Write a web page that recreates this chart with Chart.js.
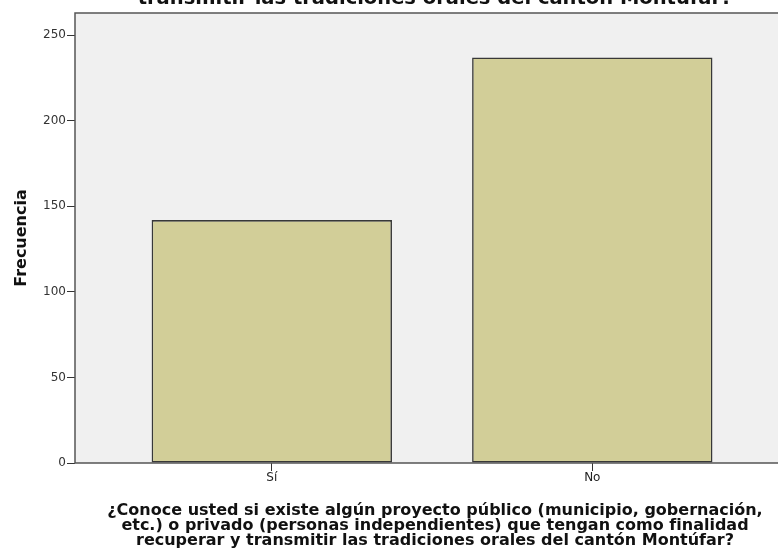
<!DOCTYPE html>
<html lang="es">
<head>
    <meta charset="UTF-8">
    <title>Frecuencia - proyecto tradiciones orales</title>
    <style>
        html, body {
            margin: 0;
            padding: 0;
            background-color: white;
            overflow: hidden;
        }
        #wrap {
            width: 795px;
            height: 552px;
        }
    </style>
    <script src="https://cdn.jsdelivr.net/npm/chart.js"></script>
</head>
<body>
    <div id="wrap">
        <canvas id="freqChart" width="795" height="552"></canvas>
    </div>

    <script>
        // data
        const categories = ['Sí', 'No'];
        const frequencies = [142, 237];
        const yTicks = [0, 50, 100, 150, 200, 250];
        const topTitle = 'transmitir las tradiciones orales del cantón Montúfar?';
        const xTitle = [
            '¿Conoce usted si existe algún proyecto público (municipio, gobernación,',
            'etc.) o privado (personas independientes) que tengan como finalidad',
            'recuperar y transmitir las tradiciones orales del cantón Montúfar?'
        ];

        const xPositions = categories.map((c, i) => i + 1);
        const points = xPositions.map((x, i) => ({ x: x, y: frequencies[i] }));

        // grey plot background + frame, and the (cut off) chart title on top
        const plotFrame = {
            id: 'plotFrame',
            beforeDatasetsDraw(chart) {
                const { ctx, chartArea: a } = chart;
                ctx.save();
                ctx.fillStyle = '#F0F0F0';
                ctx.fillRect(a.left, a.top, a.right - a.left, a.bottom - a.top);
                ctx.strokeStyle = '#555';
                ctx.lineWidth = 1.5;
                ctx.strokeRect(a.left, a.top, a.right - a.left + 5, a.bottom - a.top);
                ctx.restore();
            },
            afterDraw(chart) {
                const { ctx, chartArea: a } = chart;
                ctx.save();
                ctx.fillStyle = '#111';
                ctx.font = 'bold 19.5px "DejaVu Sans", sans-serif';
                ctx.textAlign = 'center';
                ctx.textBaseline = 'alphabetic';
                ctx.fillText(topTitle, (a.left + a.right) / 2, 4);
                ctx.restore();
            }
        };

        Chart.defaults.font.family = '"DejaVu Sans", sans-serif';

        new Chart(document.getElementById('freqChart'), {
            type: 'bar',
            data: {
                datasets: [{
                    label: 'Frecuencia',
                    data: points,
                    backgroundColor: '#D2CE98',
                    borderColor: '#383838',
                    borderWidth: 1.6,
                    borderSkipped: false,
                    barPercentage: 0.75,
                    categoryPercentage: 1
                }]
            },
            options: {
                responsive: false,
                animation: false,
                layout: { padding: { top: 13, left: 0, right: 0, bottom: 0 } },
                plugins: {
                    legend: { display: false },
                    tooltip: { enabled: false }
                },
                scales: {
                    x: {
                        type: 'linear',
                        min: 0.386,
                        max: 2.6325,
                        offset: false,
                        grid: {
                            offset: false,
                            drawOnChartArea: false,
                            drawTicks: true,
                            tickLength: 8,
                            color: '#333'
                        },
                        border: { display: false },
                        afterBuildTicks: scale => {
                            scale.ticks = xPositions.map(v => ({ value: v }));
                        },
                        afterFit: scale => { scale.height = 89; },
                        ticks: {
                            padding: 0,
                            color: '#222',
                            font: { size: 12 },
                            callback: v => categories[xPositions.indexOf(v)] || ''
                        },
                        title: {
                            display: true,
                            text: xTitle,
                            color: '#111',
                            font: { size: 16, weight: 'bold', lineHeight: 0.9375 },
                            padding: { top: 0, bottom: 4 }
                        }
                    },
                    y: {
                        type: 'linear',
                        min: 0,
                        max: 263,
                        grid: {
                            drawOnChartArea: false,
                            drawTicks: true,
                            tickLength: 8,
                            color: '#333'
                        },
                        border: { display: false },
                        afterBuildTicks: scale => {
                            scale.ticks = yTicks.map(v => ({ value: v }));
                        },
                        afterFit: scale => { scale.width = 75; },
                        ticks: {
                            padding: 1,
                            color: '#333',
                            font: { size: 12 }
                        },
                        title: {
                            display: true,
                            text: 'Frecuencia',
                            color: '#111',
                            font: { size: 16, weight: 'bold', lineHeight: 1.2 },
                            padding: { top: 12, bottom: 0 }
                        }
                    }
                }
            },
            plugins: [plotFrame]
        });
    </script>
</body>
</html>
